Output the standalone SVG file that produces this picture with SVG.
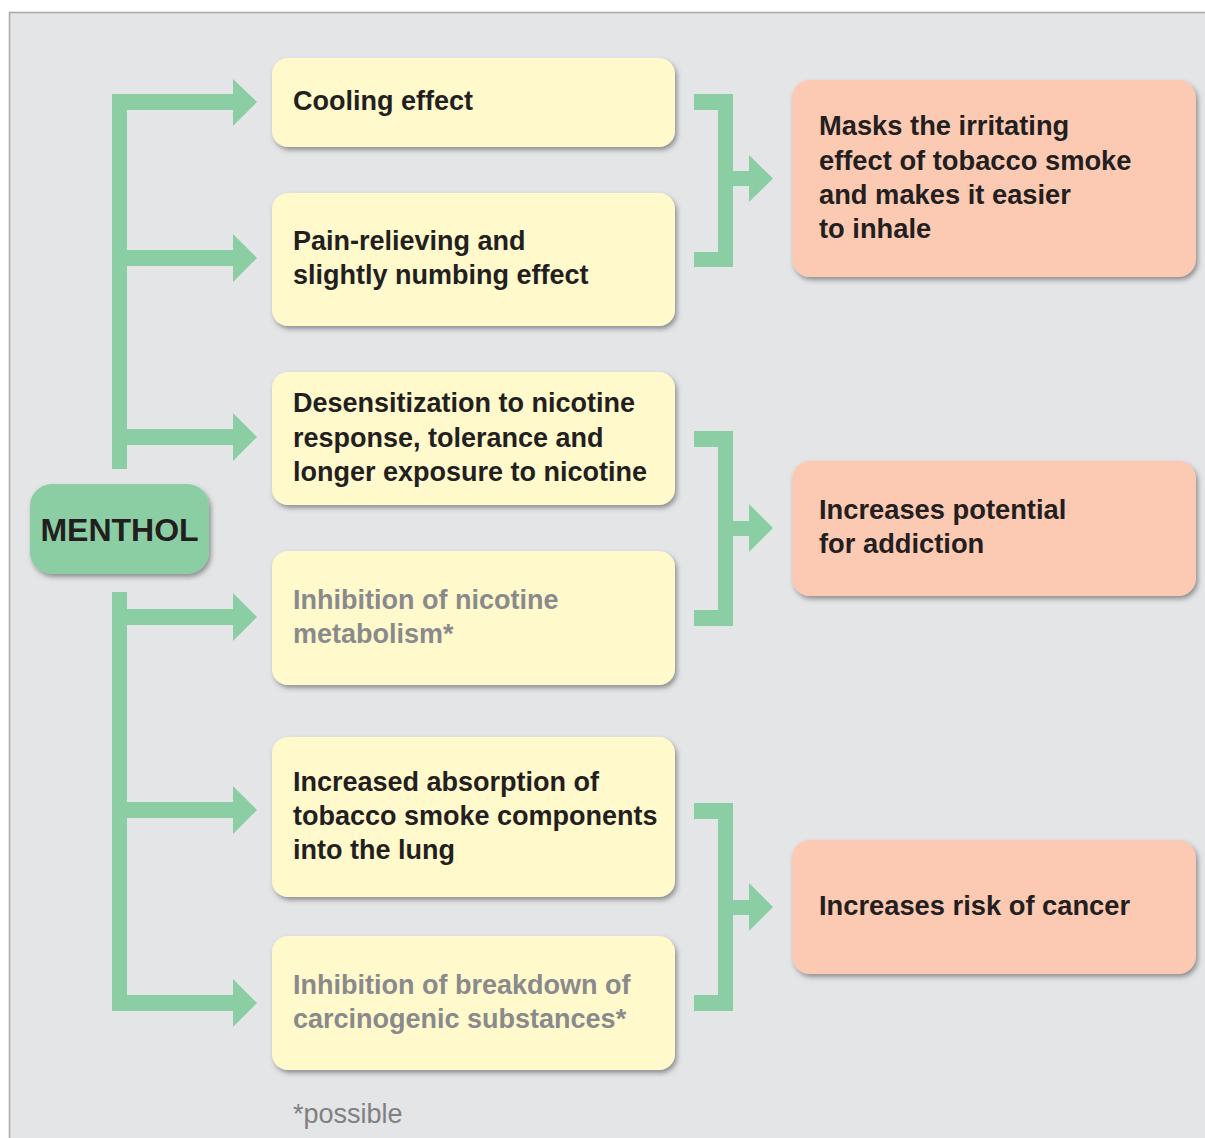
<svg xmlns="http://www.w3.org/2000/svg" width="1205" height="1138" viewBox="0 0 1205 1138">
<defs>
<filter id="sh" x="-10%" y="-10%" width="125%" height="130%">
<feDropShadow dx="2" dy="3" stdDeviation="2.5" flood-color="#4a4a4a" flood-opacity="0.55"/>
</filter>
<style>
.y{fill:#fff9cc;filter:url(#sh)}
.s{fill:#fcc9b3;filter:url(#sh)}
.m{fill:#8ccea4;filter:url(#sh)}
.c{fill:#8ccea4}
text{font-family:"Liberation Sans",Arial,sans-serif;font-weight:bold;font-size:27px;fill:#231f20}
.g{fill:#8a8a8c}
.r{font-size:27.3px}
</style>
</defs>
<rect x="9.5" y="12.5" width="1210" height="1140" fill="#e4e5e7" stroke="#a9a9a9" stroke-width="1.5"/>
<g id="connectors" class="c">
<rect x="112" y="94" width="15" height="375"/>
<rect x="112" y="94" width="122" height="16"/>
<polygon points="233,79 257,102 233,126"/>
<rect x="127" y="250" width="107" height="16"/>
<polygon points="233,234 257,258 233,282"/>
<rect x="127" y="429" width="107" height="16"/>
<polygon points="233,413 257,437 233,461"/>
<rect x="112" y="592" width="15" height="419"/>
<rect x="127" y="609" width="107" height="16"/>
<polygon points="233,593 257,617 233,641"/>
<rect x="127" y="802" width="107" height="16"/>
<polygon points="233,786 257,810 233,834"/>
<rect x="112" y="995" width="122" height="16"/>
<polygon points="233,979 257,1003 233,1027"/>
<rect x="694" y="94" width="39" height="16"/>
<rect x="718" y="94" width="15" height="173"/>
<rect x="694" y="252" width="39" height="15"/>
<rect x="733" y="171" width="17" height="15"/>
<polygon points="749,155 773,178.5 749,202"/>
<rect x="694" y="431" width="39" height="16"/>
<rect x="718" y="431" width="15" height="195"/>
<rect x="694" y="610" width="39" height="16"/>
<rect x="733" y="521" width="17" height="15"/>
<polygon points="749,504 773,528 749,552"/>
<rect x="694" y="803" width="39" height="16"/>
<rect x="718" y="803" width="15" height="208"/>
<rect x="694" y="995" width="39" height="16"/>
<rect x="733" y="900" width="17" height="15"/>
<polygon points="749,883 773,907 749,931"/>
</g>
<g id="menthol">
<rect class="m" x="30" y="484" width="179" height="90" rx="22"/>
<text x="119.5" y="541" text-anchor="middle" style="font-size:32px">MENTHOL</text>
</g>
<g id="cooling">
<rect class="y" x="272" y="58" width="403" height="89" rx="16"/>
<text x="293" y="110">Cooling effect</text>
</g>
<g id="pain">
<rect class="y" x="272" y="193" width="403" height="133" rx="16"/>
<text x="293" y="250">Pain-relieving and</text>
<text x="293" y="284">slightly numbing effect</text>
</g>
<g id="desensitization">
<rect class="y" x="272" y="372" width="403" height="133" rx="16"/>
<text x="293" y="412">Desensitization to nicotine</text>
<text x="293" y="447">response, tolerance and</text>
<text x="293" y="481">longer exposure to nicotine</text>
</g>
<g id="inhibition-metabolism">
<rect class="y" x="272" y="551" width="403" height="134" rx="16"/>
<text class="g" x="293" y="609">Inhibition of nicotine</text>
<text class="g" x="293" y="643">metabolism*</text>
</g>
<g id="absorption">
<rect class="y" x="272" y="737" width="403" height="160" rx="16"/>
<text x="293" y="791">Increased absorption of</text>
<text x="293" y="825">tobacco smoke components</text>
<text x="293" y="859">into the lung</text>
</g>
<g id="inhibition-breakdown">
<rect class="y" x="272" y="936" width="403" height="134" rx="16"/>
<text class="g" x="293" y="994">Inhibition of breakdown of</text>
<text class="g" x="293" y="1028">carcinogenic substances*</text>
</g>
<g id="masks">
<rect class="s" x="792" y="80" width="404" height="197" rx="18"/>
<text class="r" x="819" y="135">Masks the irritating</text>
<text class="r" x="819" y="170">effect of tobacco smoke</text>
<text class="r" x="819" y="204">and makes it easier</text>
<text class="r" x="819" y="238">to inhale</text>
</g>
<g id="addiction">
<rect class="s" x="792" y="461" width="404" height="135" rx="18"/>
<text class="r" x="819" y="519">Increases potential</text>
<text class="r" x="819" y="553">for addiction</text>
</g>
<g id="cancer">
<rect class="s" x="792" y="840" width="404" height="134" rx="18"/>
<text class="r" x="819" y="915">Increases risk of cancer</text>
</g>
<text x="293" y="1123" style="font-weight:normal;font-size:27px;fill:#808082">*possible</text>
</svg>
